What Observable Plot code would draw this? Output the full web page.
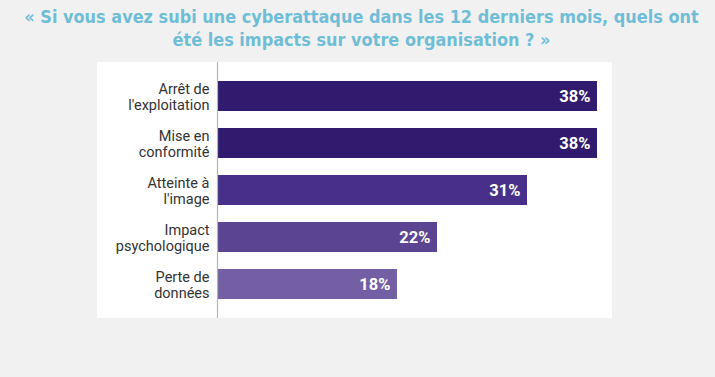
<!DOCTYPE html>
<html>
<head>
<meta charset="utf-8">
<script src="https://cdn.jsdelivr.net/npm/d3@7"></script>
<script src="https://cdn.jsdelivr.net/npm/@observablehq/plot@0.6"></script>
<style>
  html, body { margin: 0; padding: 0; background: #f1f1f1; width: 715px; height: 377px; overflow: hidden; }
  #title { position: absolute; left: 4px; top: 5px; width: 715px; text-align: center;
    font-family: "Liberation Sans Narrow", "DejaVu Sans Condensed", sans-serif; font-weight: bold;
    font-size: 18.5px; line-height: 23px; color: #6fbdd6; transform: scaleX(0.968); transform-origin: 358px 0; }
  #panel { position: absolute; left: 97px; top: 62px; width: 515px; height: 256px; background: #ffffff; }
</style>
</head>
<body>
<div id="title">« Si vous avez subi une cyberattaque dans les 12 derniers mois, quels ont<br>été les impacts sur votre organisation ? »</div>
<div id="panel"></div>
<script>
const categories = ["Arrêt de\nl'exploitation", "Mise en\nconformité", "Atteinte à\nl'image", "Impact\npsychologique", "Perte de\ndonnées"];
const values = [38, 38, 31, 22, 18];
const colors = ["#301b6f", "#301b6f", "#48308a", "#5b4593", "#7360a4"];

const data = categories.map((c, i) => ({category: c, value: values[i], color: colors[i]}));

const chart = Plot.plot({
  width: 515,
  height: 256,
  marginLeft: 120,
  marginRight: 15,
  marginTop: 0,
  marginBottom: 0,
  style: {background: "transparent", fontFamily: "Roboto, sans-serif"},
  x: {domain: [0, 38], axis: null},
  y: {domain: categories, padding: 0.37, label: null},
  marks: [
    Plot.barX(data, {x: "value", y: "category", fill: "color"}),
    Plot.ruleX([0], {stroke: "#b5b5b5", strokeWidth: 1.2}),
    Plot.axisY({tickSize: 0, tickPadding: 8, fontSize: 14.5, lineHeight: 1.1, fill: "#333", label: null}),
    Plot.text(data, {x: "value", y: "category", text: d => d.value + "%", textAnchor: "end", dx: -7,
      fill: "white", fontWeight: "bold", fontSize: 16.5})
  ]
});
document.getElementById("panel").appendChild(chart);
</script>
</body>
</html>
